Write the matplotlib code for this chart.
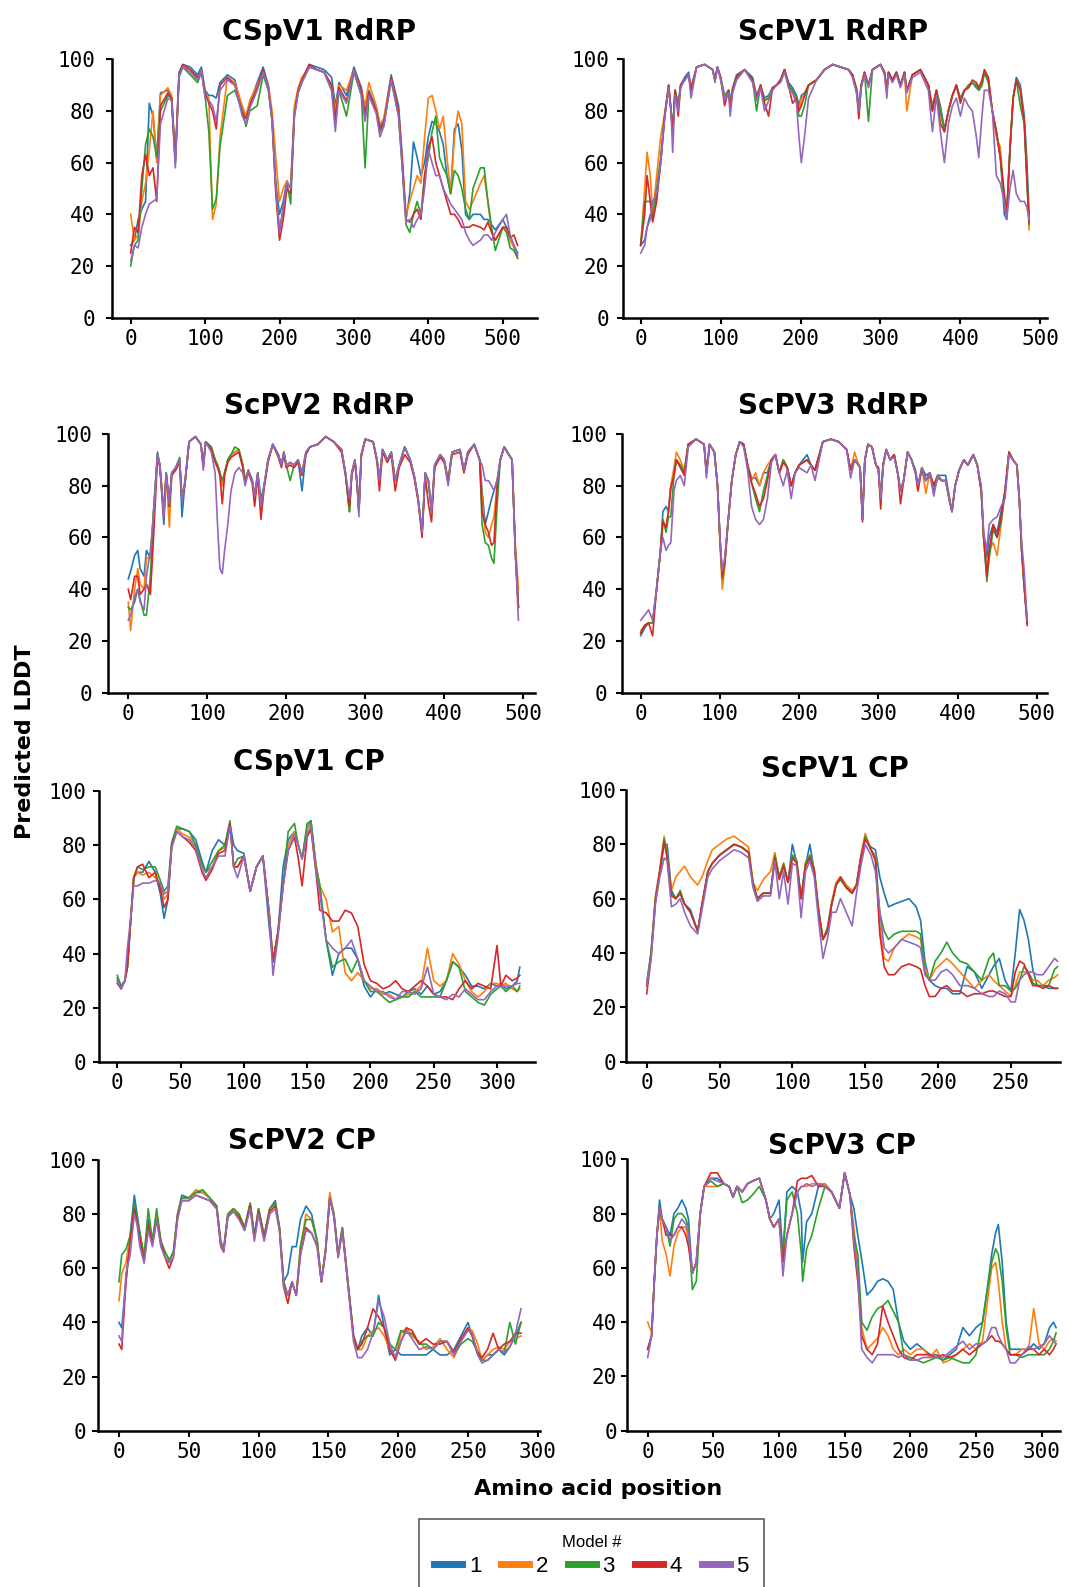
import matplotlib
matplotlib.use("Agg")
import matplotlib.pyplot as plt
from matplotlib.lines import Line2D

# ---------------- data ----------------
model_labels = ["1", "2", "3", "4", "5"]
model_colors = ["#1f77b4", "#ff7f0e", "#2ca02c", "#d62728", "#9467bd"]
panel_titles = ["CSpV1 RdRP", "ScPV1 RdRP", "ScPV2 RdRP", "ScPV3 RdRP",
                "CSpV1 CP", "ScPV1 CP", "ScPV2 CP", "ScPV3 CP"]
y_ticks = [0, 20, 40, 60, 80, 100]
x_ticks_rdrp = [0, 100, 200, 300, 400, 500]
x_ticks_cp = [0, 50, 100, 150, 200, 250, 300]
x_ticks_scpv1_cp = [0, 50, 100, 150, 200, 250]

# CSpV1 RdRP
cspv1_rdrp_pos = [0,5,10,15,20,25,30,35,40,50, 55,60,65,70,80,90,95,100,105,110,
                  115,120,130,140,150,155,160,170,178,185, 190,195,200,205,210,215,220,225,230,240,
                  250,260,270,275,280,290,300,310,315,320, 330,335,340,350,360,365,370,375,380,385,
                  390,395,400,405,410,415,420,425,430,435, 440,445,450,455,460,470,475,480,485,490,
                  500,505,510,515,520]
cspv1_rdrp_m1 = [28,30,38,42,45,83,78,62,87,88, 85,62,95,98,97,94,97,88,86,86, 85,91,94,92,80,78,83,91,97,90,
                 77,52,40,45,53,50,80,88,92,98, 97,96,93,82,91,86,97,89,80,88, 81,74,76,94,82,62,38,48,68,62,
                 55,60,70,76,75,72,67,55,48,73, 75,65,40,38,40,40,38,38,36,34, 38,35,30,28,25]
cspv1_rdrp_m2 = [40,30,32,45,52,65,80,60,86,89, 86,62,94,97,96,92,96,87,85,38, 44,70,93,91,82,78,84,90,95,90,
                 80,62,45,50,53,50,82,89,93,97, 96,95,90,80,90,88,96,88,82,91, 82,75,77,93,80,60,40,45,50,55,
                 52,70,85,86,80,73,78,62,48,70, 80,75,45,42,45,52,55,45,33,30, 35,34,30,27,23]
cspv1_rdrp_m3 = [20,28,30,50,67,73,70,62,80,86, 85,60,93,97,94,91,95,86,72,42, 46,66,86,88,80,74,80,82,94,88,
                 76,50,34,42,52,44,78,87,91,97, 96,95,88,78,88,78,95,86,58,86, 80,72,74,92,78,58,36,33,40,45,
                 40,55,62,72,78,62,58,55,48,57, 55,50,42,38,50,58,58,45,35,26, 35,33,27,26,23]
cspv1_rdrp_m4 = [25,35,33,55,63,55,58,45,82,87, 85,60,94,98,96,93,96,87,83,80, 73,90,93,90,79,77,82,89,96,89,
                 77,48,30,38,50,48,79,88,92,98, 96,95,90,76,89,84,96,88,78,87, 80,73,75,93,80,60,38,37,40,42,
                 38,55,66,70,60,55,50,45,40,40, 38,35,35,35,36,35,34,37,33,30, 35,35,31,32,28]
cspv1_rdrp_m5 = [22,28,27,35,40,44,45,46,75,85, 84,58,94,97,95,92,96,85,84,82, 76,88,92,90,78,75,81,88,95,89,
                 76,50,33,43,52,50,78,87,91,97, 96,95,88,72,88,83,96,86,76,86, 79,70,74,92,78,58,37,38,35,38,
                 40,50,65,60,55,55,50,47,44,42, 40,38,33,30,28,30,32,32,30,33, 38,40,32,28,24]

# ScPV1 RdRP
scpv1_rdrp_pos = [0,5,8,12,15,20,25,30,35,38, 40,43,47,50,55,60,63,70,80,90,
                  93,96,100,105,110,112,115,120,130,140, 145,150,155,160,165,170,175,180,185,190,
                  195,198,201,205,210,220,230,240,250,260, 265,270,273,276,280,285,290,300,305,308,
                  310,315,320,325,330,333,340,350,360,365, 370,375,380,385,390,395,400,405,410,415,
                  420,423,427,430,435,440,445,450,455,458, 462,466,470,475,480,483,486]
scpv1_rdrp_m1 = [28,30,35,40,40,48,60,78,89,80, 72,88,83,90,93,95,89,97,98,96, 92,97,93,86,88,84,89,94,96,93,
                 86,90,85,86,89,90,92,96,91,89, 86,82,86,87,90,92,96,98,97,96, 94,89,82,90,95,90,96,98,95,88,
                 95,92,95,90,95,88,94,96,90,82, 88,82,73,80,86,90,85,88,89,91, 89,88,90,95,92,80,72,62,40,38,
                 65,85,93,90,78,62,40]
scpv1_rdrp_m2 = [28,50,64,55,40,55,70,79,90,80, 72,88,82,90,92,94,88,97,98,96, 92,97,93,85,88,83,88,93,96,92,
                 85,90,84,85,89,90,92,96,90,88, 85,80,85,86,90,92,96,98,97,96, 94,88,80,90,95,90,96,98,95,88,
                 95,92,95,90,95,80,94,96,90,81, 88,80,72,80,86,90,84,88,89,91, 90,88,90,95,92,80,70,66,45,40,
                 65,85,92,88,75,55,34]
scpv1_rdrp_m3 = [28,45,45,45,38,50,62,78,90,80, 72,88,82,90,92,94,88,97,98,96, 92,97,93,85,88,82,88,93,96,92,
                 80,90,84,85,89,90,92,96,90,88, 85,78,78,82,90,92,96,98,97,96, 94,88,80,90,95,76,96,98,95,88,
                 95,92,95,90,95,88,94,96,90,80, 88,80,72,80,86,90,84,88,90,91, 90,88,90,95,91,80,72,62,45,40,
                 65,85,92,82,75,55,36]
scpv1_rdrp_m4 = [28,40,55,45,37,45,60,78,90,80, 71,88,78,90,92,94,88,97,98,96, 92,97,93,82,88,81,88,93,96,92,
                 85,90,83,78,89,90,92,96,90,83, 85,80,82,86,90,92,96,98,97,96, 94,88,77,90,95,90,96,98,95,88,
                 95,92,95,90,95,88,94,96,90,80, 88,75,72,80,86,90,83,88,89,92, 91,89,92,96,93,80,72,62,48,40,
                 65,85,92,88,75,55,37]
scpv1_rdrp_m5 = [25,28,35,38,45,48,60,77,89,80, 64,86,80,89,92,94,85,97,98,96, 91,97,92,84,87,78,87,92,96,91,
                 84,89,80,84,88,90,91,95,89,87, 83,70,60,70,85,92,96,98,97,96, 93,87,80,89,94,89,96,98,94,85,
                 94,91,94,89,94,87,93,95,88,72, 86,72,60,75,82,85,78,85,82,80, 70,62,78,88,88,80,55,52,45,38,
                 50,57,48,45,45,43,38]

# ScPV2 RdRP
scpv2_rdrp_pos = [0,3,8,12,15,20,23,28,32,37, 40,45,48,52,55,60,65,68,72,77,
                  85,92,95,98,105,110,113,116,119,122, 126,130,135,140,145,148,152,157,160,164,
                  168,172,177,183,190,194,197,200,205,210, 215,220,225,230,240,250,260,270,275,280,
                  283,287,290,292,295,300,310,315,318,322, 328,333,338,343,350,357,362,367,372,376,
                  380,384,388,395,400,405,410,420,425,430, 438,445,448,452,456,460,463,467,471,476,
                  482,486,490,494]
scpv2_rdrp_m1 = [44,47,53,55,48,45,55,52,70,93, 88,65,85,74,85,87,90,68,82,97, 99,96,88,97,95,90,88,85,80,85,
                 90,92,93,94,88,82,86,82,76,85, 75,80,90,96,92,88,93,88,89,88, 90,78,93,95,96,99,97,94,85,70,
                 85,90,80,70,92,98,97,90,82,94, 90,93,82,88,95,90,84,75,62,85, 82,70,88,92,90,82,93,94,86,93,
                 96,90,78,65,70,75,78,82,90,95, 92,90,55,33]
scpv2_rdrp_m2 = [35,24,40,48,42,40,52,52,70,92, 88,70,85,64,84,87,90,75,82,97, 99,96,88,97,95,90,88,85,80,85,
                 90,92,93,94,88,82,86,82,76,85, 70,80,90,96,92,88,93,88,89,88, 90,85,93,95,96,99,97,94,85,70,
                 85,90,80,70,92,98,97,90,82,94, 90,93,82,88,95,90,84,75,62,85, 82,70,88,92,90,82,93,94,85,93,
                 96,90,75,62,60,65,68,80,90,95, 92,90,58,40]
scpv2_rdrp_m3 = [33,32,35,40,36,30,30,45,70,92, 88,70,85,72,85,87,91,75,82,97, 99,96,88,97,95,90,88,85,82,85,
                 90,92,95,94,88,82,86,82,76,85, 72,80,90,96,92,88,93,88,82,88, 90,85,93,95,96,99,97,94,85,70,
                 85,90,80,70,92,98,97,90,82,94, 90,93,82,88,95,90,84,75,62,85, 82,70,88,92,90,82,93,94,86,93,
                 96,90,65,58,57,52,50,72,90,95, 92,90,55,33]
scpv2_rdrp_m4 = [40,36,45,45,38,40,42,38,60,91, 87,68,84,72,84,86,89,74,81,97, 99,96,87,97,94,89,87,84,73,84,
                 89,91,92,93,87,81,85,81,72,84, 67,79,89,96,91,87,92,87,88,87, 89,84,92,95,96,99,97,93,84,72,
                 84,89,79,70,91,98,97,89,78,93, 89,92,78,87,92,89,83,74,60,84, 73,66,87,91,89,81,92,93,85,92,
                 96,90,70,65,62,57,58,80,90,95, 92,90,55,33]
scpv2_rdrp_m5 = [28,30,37,40,35,32,45,55,68,92, 88,68,85,73,85,87,90,74,82,97, 99,96,86,97,93,85,65,48,46,55,
                 65,78,85,87,85,80,86,82,76,85, 72,80,90,96,92,88,93,88,89,88, 90,85,93,95,96,99,97,94,85,75,
                 85,90,80,68,92,98,97,90,82,94, 90,93,82,88,95,90,84,75,62,85, 82,70,88,92,90,80,93,94,86,93,
                 96,90,88,82,82,80,78,82,90,95, 92,90,55,28]

# ScPV3 RdRP
scpv3_rdrp_pos = [0,5,10,15,20,25,28,32,35,38, 42,45,50,55,60,70,80,83,87,93,
                  97,100,103,106,110,115,120,125,130,135, 140,145,150,155,160,165,170,175,180,185,
                  190,195,200,210,215,220,230,240,250,260, 265,270,275,277,280,283,287,292,297,300,
                  303,306,310,315,320,325,328,332,337,342, 347,350,355,360,365,370,375,380,385,390,
                  393,397,402,408,413,420,425,430,433,437, 440,445,450,455,460,465,470,475,478,481,
                  484,488]
scpv3_rdrp_m1 = [22,25,27,27,40,55,70,72,70,80, 85,90,88,85,96,98,96,85,96,93, 80,60,45,50,65,82,92,97,96,88,
                 83,83,80,85,85,90,92,85,90,87, 80,85,88,92,88,86,97,98,97,94, 86,90,88,87,67,90,96,95,88,87,
                 75,88,94,90,92,84,78,82,93,90, 86,80,87,84,85,80,84,84,84,75, 70,80,86,90,88,92,88,78,60,52,
                 60,65,62,70,78,93,90,88,75,55, 42,27]
scpv3_rdrp_m2 = [24,26,27,27,40,55,67,63,70,80, 87,93,90,86,96,98,96,85,96,93, 80,58,40,48,65,82,92,97,96,88,
                 82,85,80,85,88,90,92,85,90,87, 80,85,88,90,88,86,97,98,97,94, 86,93,88,87,67,90,96,95,88,87,
                 75,88,94,90,92,84,78,82,93,90, 85,78,87,77,85,80,84,82,82,75, 70,80,86,90,88,92,88,78,60,48,
                 55,58,53,65,78,93,90,88,75,55, 42,27]
scpv3_rdrp_m3 = [23,26,27,27,40,55,67,62,68,68, 84,90,88,85,96,98,96,85,96,93, 80,60,44,50,65,82,92,97,96,88,
                 81,75,70,78,84,90,92,85,90,87, 80,85,88,90,88,86,97,98,97,94, 86,90,88,87,67,90,96,95,88,87,
                 75,88,94,90,92,84,78,82,93,90, 85,80,86,82,84,78,83,82,82,74, 70,80,86,90,88,92,88,78,60,43,
                 52,63,60,66,78,93,90,88,75,55, 42,27]
scpv3_rdrp_m4 = [23,26,27,22,40,55,66,64,70,79, 84,90,87,84,96,98,96,85,96,93, 80,60,45,50,65,82,92,97,96,88,
                 81,77,72,75,82,90,92,85,89,87, 80,85,88,90,88,86,97,98,97,94, 86,90,88,87,66,90,96,95,88,87,
                 71,88,94,90,92,84,73,82,93,90, 85,78,87,82,85,80,84,82,82,74, 70,80,86,90,88,92,88,78,60,45,
                 55,65,60,68,78,93,90,88,75,55, 42,26]
scpv3_rdrp_m5 = [28,30,32,28,40,55,60,55,57,58, 78,82,84,80,95,98,96,83,96,93, 80,60,47,52,65,82,92,97,95,86,
                 72,67,65,67,75,89,92,85,80,86, 75,85,87,85,88,82,97,98,97,94, 83,90,88,87,67,90,96,95,88,86,
                 75,87,94,90,91,84,78,82,93,90, 85,80,87,82,85,76,84,82,82,74, 70,80,86,90,88,92,88,80,62,55,
                 65,67,68,72,75,92,90,88,75,58, 48,28]

# CSpV1 CP
cspv1_cp_pos = [0,3,6,8,11,13,16,20,25,30, 34,37,40,43,47,52,57,62,67,70,
                75,80,85,89,92,95,100,105,110,115, 120,123,127,131,135,140,143,146,150,153,
                157,160,165,170,175,180,185,190,195,200, 205,210,215,220,225,230,235,240,245,250,
                255,260,265,270,275,280,285,290,295,300, 303,307,312,316,318]
cspv1_cp_m1 = [31,28,30,35,55,68,70,70,74,70, 62,53,60,80,86,86,85,82,74,70, 78,82,80,88,80,78,77,63,72,76,
               50,37,48,72,82,85,80,75,86,89, 72,65,45,32,40,42,42,38,28,24, 27,25,26,25,24,26,27,25,28,25,
               26,30,37,35,32,28,28,27,29,28, 29,27,28,30,35]
cspv1_cp_m2 = [30,27,30,35,55,68,70,69,70,68, 66,60,62,80,86,84,83,80,72,70, 72,78,79,88,72,72,76,63,72,76,
               55,37,48,65,80,85,80,75,86,88, 73,65,60,48,50,33,30,33,30,27, 27,25,25,23,24,25,26,28,42,30,
               28,30,40,36,30,26,24,26,29,29, 28,29,27,26,27]
cspv1_cp_m3 = [32,28,30,35,55,68,72,71,72,72, 67,63,65,81,87,86,85,80,73,70, 74,78,80,89,72,75,76,63,72,76,
               55,37,48,65,85,88,80,75,88,89, 72,65,45,35,37,38,33,38,30,26, 26,24,22,23,24,24,26,24,24,24,
               24,30,37,35,26,24,22,21,25,27, 28,26,28,26,28]
cspv1_cp_m4 = [29,27,30,35,55,68,72,73,68,70, 64,57,60,80,85,83,81,78,70,67, 71,77,78,88,72,72,76,63,72,76,
               55,37,48,65,78,83,75,65,83,86, 70,56,55,52,52,56,55,50,36,30, 29,27,28,30,27,26,28,30,28,25,
               24,24,23,27,30,27,29,28,27,43, 28,32,30,31,32]
cspv1_cp_m5 = [30,27,30,42,55,65,65,66,66,67, 66,62,63,79,85,83,82,79,71,68, 72,76,76,87,72,68,76,63,72,76,
               55,32,46,65,78,84,80,75,84,87, 70,62,45,42,40,42,45,38,30,28, 26,26,24,23,26,26,25,27,35,25,
               24,23,25,24,27,25,23,23,26,28, 28,28,28,29,29]

# ScPV1 CP
scpv1_cp_pos = [0,3,6,9,12,14,17,20,23,26, 30,35,38,42,45,50,55,60,65,70,
                73,76,80,85,88,91,94,97,100,103, 106,109,112,115,118,121,124,127,130,133,
                137,141,144,147,150,154,157,160,163,166, 170,175,180,185,188,191,194,198,202,206,
                210,215,220,225,230,235,238,242,246,250, 253,256,259,262,265,268,272,276,280,282]
scpv1_cp_m1 = [29,40,60,70,80,80,63,60,62,58, 56,48,58,70,73,76,78,80,79,77, 65,60,62,62,75,68,72,66,80,73,
               60,72,80,70,55,45,48,58,65,68, 65,62,65,75,82,79,78,68,62,57, 58,59,60,57,52,37,30,28,27,27,
               25,25,35,33,27,32,35,38,30,26, 40,56,52,45,34,28,28,27,27,27]
scpv1_cp_m2 = [28,40,61,71,83,76,63,68,70,72, 68,65,68,74,78,80,82,83,81,79, 66,63,67,70,77,68,73,66,76,74,
               60,73,76,71,56,45,49,59,66,68, 65,63,65,76,84,78,76,50,38,37, 42,45,47,46,45,35,30,34,36,38,
               36,33,30,27,30,32,30,28,26,24, 28,33,33,33,30,30,28,30,31,32]
scpv1_cp_m3 = [28,40,60,70,82,76,62,60,63,58, 55,48,58,70,73,76,78,80,79,77, 66,60,62,62,76,68,73,66,76,74,
               60,73,76,71,56,45,49,58,65,67, 64,62,65,75,83,78,75,55,48,45, 47,48,48,48,47,33,30,37,40,44,
               40,37,36,33,30,38,40,28,28,26, 27,30,35,33,29,28,28,28,34,35]
scpv1_cp_m4 = [25,38,59,70,81,75,61,60,62,58, 55,48,58,70,73,76,78,80,79,77, 65,60,62,62,75,67,72,66,75,73,
               60,72,75,70,55,45,48,58,65,68, 64,62,65,75,82,78,74,47,35,32, 32,35,36,35,34,28,24,24,27,28,
               26,26,24,25,25,26,26,25,24,24, 33,37,36,32,28,28,27,28,27,27]
scpv1_cp_m5 = [28,38,58,68,75,74,57,58,60,55, 50,47,56,68,71,74,76,78,77,75, 64,59,61,61,74,60,70,58,73,72,
               53,70,74,68,52,38,45,55,55,60, 55,50,62,72,80,76,70,55,42,40, 42,45,44,43,42,32,30,30,33,34,
               32,28,28,27,25,24,24,26,25,22, 22,30,32,33,33,32,32,35,38,37]

# ScPV2 CP
scpv2_cp_pos = [0,2,5,8,11,13,15,18,21,24, 27,30,33,36,39,42,45,50,55,60,
                65,70,73,75,78,82,86,90,94,97, 100,104,108,112,115,118,121,124,127,130,
                134,138,142,145,148,151,154,157,160,164, 168,171,174,178,182,186,190,194,198,202,
                206,210,215,220,225,230,235,240,245,250, 253,257,260,264,268,272,276,280,284,288]
scpv2_cp_m1 = [40,38,55,72,87,80,73,64,78,70, 80,70,66,63,66,80,87,86,88,88, 86,83,70,67,80,82,80,75,84,72,
               82,72,82,85,75,55,58,68,68,78, 83,80,70,55,67,86,80,65,75,55, 35,30,35,38,35,50,38,28,30,28,
               28,28,28,28,30,28,28,30,35,40, 35,28,26,28,28,30,28,31,35,40]
scpv2_cp_m2 = [48,58,62,72,82,78,72,65,76,70, 80,70,66,63,66,80,86,86,89,88, 86,83,69,67,80,82,80,75,84,72,
               82,72,82,84,75,55,50,55,50,68, 80,78,70,55,67,88,80,65,75,55, 35,30,30,35,37,38,35,30,27,36,
               38,35,33,30,31,34,30,27,33,38, 37,32,26,28,30,31,30,33,34,35]
scpv2_cp_m3 = [55,65,67,72,84,78,73,64,82,70, 82,70,66,63,66,80,86,86,88,89, 86,83,68,67,80,82,80,75,84,72,
               82,72,82,84,75,55,50,55,50,68, 78,78,70,55,67,86,80,65,75,55, 35,30,33,35,35,40,38,32,30,37,
               36,36,32,32,30,33,33,28,32,34, 33,29,26,26,28,30,29,40,32,40]
scpv2_cp_m4 = [32,30,55,70,82,77,71,62,76,69, 78,69,64,60,64,79,85,85,87,86, 85,82,68,66,79,81,79,74,83,71,
               81,71,81,83,74,53,47,55,50,65, 75,73,68,55,66,86,79,64,74,54, 35,30,32,38,45,42,38,30,26,33,
               38,37,32,34,32,32,33,29,34,38, 35,29,27,30,36,30,32,33,36,36]
scpv2_cp_m5 = [35,33,58,65,80,76,68,62,74,68, 78,68,64,62,64,78,85,85,87,86, 85,82,68,66,79,81,78,74,82,70,
               80,70,80,82,74,53,50,55,50,65, 74,73,68,55,66,86,79,64,74,54, 33,27,27,30,36,48,42,32,27,33,
               37,34,30,31,30,33,33,28,33,37, 36,28,25,26,28,30,29,31,36,45]

# ScPV3 CP
scpv3_cp_pos = [0,3,5,7,9,11,14,17,20,23, 26,29,31,34,37,40,43,48,53,58,
                62,65,68,72,76,80,85,90,93,96, 100,103,106,110,114,117,118,121,125,130,
                135,140,143,146,150,154,157,160,163,167, 171,175,179,183,187,191,195,200,205,210,
                215,220,225,230,235,240,245,250,255,258, 262,265,267,270,273,276,280,285,290,294,
                298,302,306,309,311]
scpv3_cp_m1 = [30,35,55,72,85,78,75,72,80,82, 85,82,78,58,62,80,90,93,93,91, 90,86,90,88,91,92,93,85,78,80,
               85,65,88,90,88,80,62,77,80,90, 91,88,85,82,95,87,82,72,63,50, 52,55,56,55,52,40,33,30,32,30,
               28,28,26,28,30,38,35,38,40,50, 65,73,76,62,40,30,30,30,30,32, 30,32,38,40,38]
scpv3_cp_m2 = [40,36,55,72,82,70,65,57,68,73, 75,75,70,58,62,80,90,90,90,91, 90,86,90,88,91,92,93,85,78,75,
               78,65,72,80,88,90,90,90,91,91, 91,88,85,82,95,87,75,60,38,30, 32,34,38,35,30,28,30,28,30,30,
               27,30,25,26,28,30,32,30,33,45, 60,62,55,40,30,28,28,30,30,45, 32,30,33,34,33]
scpv3_cp_m3 = [30,35,55,72,82,78,75,68,78,80, 80,78,75,52,55,80,90,92,90,91, 90,86,90,84,85,87,90,85,78,75,
               78,65,85,88,80,65,55,67,72,82, 90,88,85,82,95,87,72,65,40,37, 42,45,46,48,44,40,28,27,26,25,
               26,27,26,27,26,25,25,28,40,50, 62,67,65,55,38,28,28,27,28,28, 28,28,30,33,36]
scpv3_cp_m4 = [30,35,55,72,82,78,72,72,72,75, 75,72,68,58,62,80,90,95,95,91, 90,86,90,88,91,92,93,85,78,75,
               78,62,72,80,92,93,93,93,94,90, 90,88,85,82,95,87,68,55,35,30, 28,32,46,40,35,30,27,26,28,28,
               28,27,28,27,28,30,28,30,32,33, 35,33,33,32,30,28,28,28,30,30, 28,30,28,30,32]
scpv3_cp_m5 = [27,35,55,72,82,78,75,70,72,75, 78,76,73,58,62,80,90,93,92,91, 90,86,90,88,91,92,93,85,78,75,
               78,57,72,80,88,90,90,91,90,91, 90,88,85,82,95,87,70,58,30,27, 25,28,28,28,28,27,28,26,26,27,
               27,27,27,29,31,33,30,32,32,33, 38,38,35,32,30,25,25,28,31,30, 31,32,35,33,32]

# ---------------- layout ----------------
W, H = 1069, 1587
fig = plt.figure(figsize=(W / 100, H / 100), dpi=100)

panels = [
    (cspv1_rdrp_pos, [cspv1_rdrp_m1, cspv1_rdrp_m2, cspv1_rdrp_m3, cspv1_rdrp_m4, cspv1_rdrp_m5], x_ticks_rdrp),
    (scpv1_rdrp_pos, [scpv1_rdrp_m1, scpv1_rdrp_m2, scpv1_rdrp_m3, scpv1_rdrp_m4, scpv1_rdrp_m5], x_ticks_rdrp),
    (scpv2_rdrp_pos, [scpv2_rdrp_m1, scpv2_rdrp_m2, scpv2_rdrp_m3, scpv2_rdrp_m4, scpv2_rdrp_m5], x_ticks_rdrp),
    (scpv3_rdrp_pos, [scpv3_rdrp_m1, scpv3_rdrp_m2, scpv3_rdrp_m3, scpv3_rdrp_m4, scpv3_rdrp_m5], x_ticks_rdrp),
    (cspv1_cp_pos, [cspv1_cp_m1, cspv1_cp_m2, cspv1_cp_m3, cspv1_cp_m4, cspv1_cp_m5], x_ticks_cp),
    (scpv1_cp_pos, [scpv1_cp_m1, scpv1_cp_m2, scpv1_cp_m3, scpv1_cp_m4, scpv1_cp_m5], x_ticks_scpv1_cp),
    (scpv2_cp_pos, [scpv2_cp_m1, scpv2_cp_m2, scpv2_cp_m3, scpv2_cp_m4, scpv2_cp_m5], x_ticks_cp),
    (scpv3_cp_pos, [scpv3_cp_m1, scpv3_cp_m2, scpv3_cp_m3, scpv3_cp_m4, scpv3_cp_m5], x_ticks_cp),
]

# axes boxes in pixels: left, top, right, bottom ; x-limits ; y tick pad (px)
boxes = [
    ((111.7, 59.3, 537, 317.7), (-25.5, 546), 11),
    ((622.7, 59.3, 1046.7, 317.7), (-22.5, 508), 8),
    ((108.3, 434, 535, 692.7), (-25.3, 515), 10),
    ((621.7, 434, 1046.7, 692.7), (-24, 512.6), 9),
    ((99.3, 791, 535, 1062), (-14.2, 330), 7),
    ((626, 790, 1060, 1061.7), (-14.2, 283.7), 4),
    ((98.3, 1160, 540, 1430.7), (-14.8, 301.6), 6),
    ((626.7, 1159.3, 1060, 1430.7), (-16, 314), 4),
]
title_xy = [(319, 31.5), (833, 31.5), (319, 406), (833, 406),
            (309, 762), (835, 769), (302, 1141), (842, 1146)]

tick_font = "DejaVu Sans Mono"

for i, ((pos, series, xt), (box, xl, ypad)) in enumerate(zip(panels, boxes)):
    l, t, r, b = box
    ax = fig.add_axes([l / W, 1 - b / H, (r - l) / W, (b - t) / H])
    for vals, col, lab in zip(series, model_colors, model_labels):
        if len(vals) != len(pos):
            raise ValueError(f"panel {i} model {lab}: {len(vals)} values vs {len(pos)} positions")
        ax.plot(pos, vals, color=col, lw=1.2, solid_joinstyle="round")
    ax.set_xlim(*xl)
    ax.set_ylim(0, 100)
    ax.set_xticks(xt)
    ax.set_yticks(y_ticks)
    for s in ("top", "right"):
        ax.spines[s].set_visible(False)
    for s in ("left", "bottom"):
        ax.spines[s].set_linewidth(1.8)
        ax.spines[s].set_color("black")
    ax.tick_params(axis="both", direction="out", length=4, width=1.5, colors="black",
                   labelsize=15)
    ax.tick_params(axis="y", pad=ypad * 0.72)
    ax.tick_params(axis="x", pad=4)
    for lbl in ax.get_xticklabels() + ax.get_yticklabels():
        lbl.set_fontfamily(tick_font)
    tx, ty = title_xy[i]
    fig.text(tx / W, 1 - ty / H, panel_titles[i], ha="center", va="center",
             fontsize=20, fontweight="bold", family="DejaVu Sans")

fig.text(25 / W, 1 - 742 / H, "Predicted LDDT", rotation=90, ha="center", va="center",
         fontsize=16, fontweight="bold", family="DejaVu Sans")
fig.text(598 / W, 1 - 1489 / H, "Amino acid position", ha="center", va="center",
         fontsize=16, fontweight="bold", family="DejaVu Sans")

handles = [Line2D([0], [0], color=c, lw=5) for c in model_colors]
leg = fig.legend(handles, model_labels, title="Model #", ncol=5,
                 loc="upper center", bbox_to_anchor=(591.5 / W, 1 - 1519 / H),
                 borderaxespad=0.0,
                 frameon=True, fancybox=False, edgecolor="#333333",
                 handlelength=1.25, handletextpad=0.3, columnspacing=0.9,
                 borderpad=0.7, labelspacing=0.3,
                 prop={"family": "Liberation Sans", "size": 16},
                 title_fontproperties={"family": "Liberation Sans", "size": 12})
leg.get_frame().set_linewidth(1.2)

fig.savefig("out.png", dpi=100)
